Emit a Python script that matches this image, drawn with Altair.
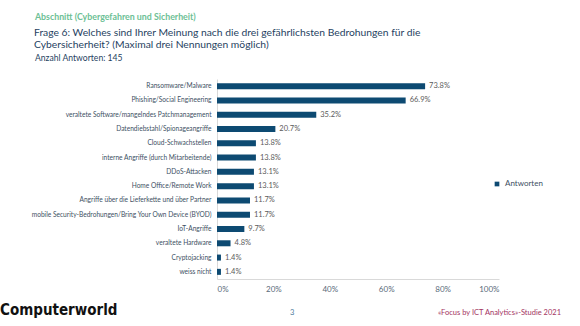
import altair as alt
import pandas as pd

categories = [
    "Ransomware/Malware",
    "Phishing/Social Engineering",
    "veraltete Software/mangelndes Patchmanagement",
    "Datendiebstahl/Spionageangriffe",
    "Cloud-Schwachstellen",
    "interne Angriffe (durch Mitarbeitende)",
    "DDoS-Attacken",
    "Home Office/Remote Work",
    "Angriffe über die Lieferkette und über Partner",
    "mobile Security-Bedrohungen/Bring Your Own Device (BYOD)",
    "IoT-Angriffe",
    "veraltete Hardware",
    "Cryptojacking",
    "weiss nicht",
]
values = [73.8, 66.9, 35.2, 20.7, 13.8, 13.8, 13.1, 13.1, 11.7, 11.7, 9.7, 4.8, 1.4, 1.4]
series_name = "Antworten"
x_ticks = [0, 20, 40, 60, 80, 100]

section_title = "Abschnitt (Cybergefahren und Sicherheit)"
question_lines = ["Frage 6: Welches sind Ihrer Meinung nach die drei gefährlichsten Bedrohungen für die",
                  "Cybersicherheit? (Maximal drei Nennungen möglich)"]
answers_text = "Anzahl Antworten: 145"
footer_page = "3"
footer_source = "«Focus by ICT Analytics»-Studie 2021"
logo_text = "Computerworld"

FONT = "Lato"
BAR = "#0d4a72"

df = pd.DataFrame({"cat": categories, "val": values, "series": series_name})
df["label"] = df["val"].map(lambda v: f"{v:.1f}%")

base = alt.Chart(df)

bars = base.mark_bar(size=6).encode(
    y=alt.Y("cat:N", sort=categories, title=None,
            axis=alt.Axis(labelFontSize=6.6, labelColor="#3d4f63", labelFont=FONT,
                          ticks=False, domainColor="#d9d9d9", labelPadding=6,
                          labelLimit=300)),
    x=alt.X("val:Q", scale=alt.Scale(domain=[0, 100]), title=None,
            axis=alt.Axis(values=x_ticks, labelExpr="datum.value + '%'", grid=False,
                          ticks=False, domainColor="#d9d9d9", labelFontSize=8,
                          labelColor="#5a6a7a", labelFont=FONT, labelPadding=6)),
    color=alt.Color("series:N", scale=alt.Scale(range=[BAR]), title=None,
                    legend=alt.Legend(orient="none", legendX=276, legendY=101,
                                      symbolType="square", symbolSize=22,
                                      labelFontSize=8, labelColor="#3d4f63",
                                      labelFont=FONT, symbolStrokeWidth=0)),
)

labels = base.mark_text(align="left", dx=4, fontSize=7.5, color="#5a5a5a", font=FONT).encode(
    y=alt.Y("cat:N", sort=categories),
    x="val:Q",
    text="label:N",
)

def txt(text, x, y, size, color, weight="normal", font=FONT, align="left"):
    return alt.Chart(pd.DataFrame({"t": [text]})).mark_text(
        align=align, baseline="middle", fontSize=size, color=color,
        fontWeight=weight, font=font
    ).encode(x=alt.value(x), y=alt.value(y), text="t:N")

L, T = 217, 79
layers = [
    bars, labels,
    txt(section_title, 35 - L, 17 - T, 8.8, "#6dbf95", "bold"),
    txt(question_lines[0], 34 - L, 33 - T, 10.3, "#1f3f5f"),
    txt(question_lines[1], 34 - L, 45 - T, 10.3, "#1f3f5f"),
    txt(answers_text, 35 - L, 58 - T, 8.6, "#1f3f5f"),
    txt(logo_text, 0 - L, 310 - T, 15, "#111111", "bold",
        "'Liberation Sans Narrow', 'DejaVu Sans Condensed', 'DejaVu Sans', sans-serif"),
    txt(footer_page, 290 - L, 313 - T, 7.5, "#4a7a9a"),
    txt(footer_source, 561 - L, 313 - T, 7.5, "#a3345f", align="right"),
]

chart = alt.layer(*layers).properties(
    width=282, height=200,
    padding={"left": L, "top": T, "right": 81, "bottom": 47},
    autosize=alt.AutoSizeParams(type="none"),
    background="white",
).configure_view(stroke=None)

chart.save("out.html", embed_options={"renderer": "svg", "actions": False})
